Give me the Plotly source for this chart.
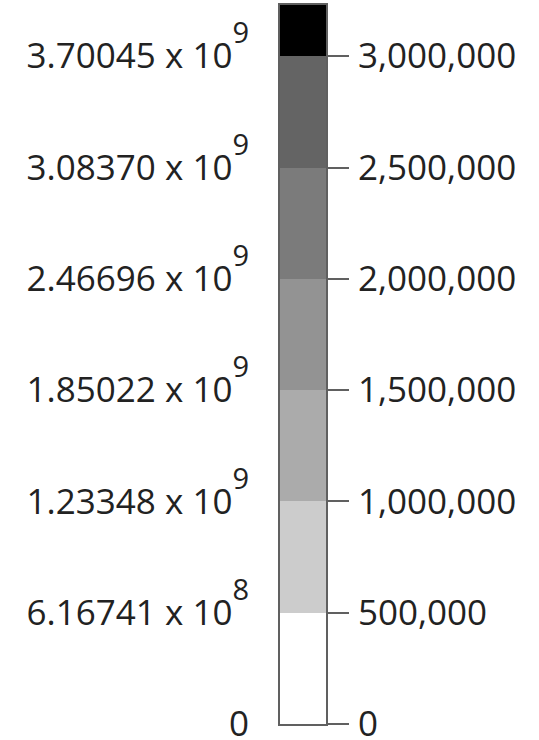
import plotly.graph_objects as go

# Class boundaries of the legend bar (right-hand units)
band_edges = [0, 500000, 1000000, 1500000, 2000000, 2500000, 3000000, 3230000]
band_colors = ["#ffffff", "#cccccc", "#ababab", "#939393", "#7b7b7b", "#646464", "#000000"]

# Right-hand tick values
tick_values = [0, 500000, 1000000, 1500000, 2000000, 2500000, 3000000]

# Left-hand labels at the same positions (mantissa, exponent)
left_mantissa = ["0", "6.16741", "1.23348", "1.85022", "2.46696", "3.08370", "3.70045"]
left_exponent = [None, 8, 9, 9, 9, 9, 9]


def sci_label(m, e):
    if e is None:
        return m
    # raised exponent, set well above the baseline
    return f"{m} x 10<sup><sup><span style='font-size:29px'>{e}</span></sup></sup>"


left_text = [sci_label(m, e) for m, e in zip(left_mantissa, left_exponent)]

FONT = "Open Sans"
FSIZE = 35
TXT = "#222222"
FRAME = "#606060"

fig = go.Figure()
for lo, hi, col in zip(band_edges[:-1], band_edges[1:], band_colors):
    fig.add_trace(go.Bar(
        x=[0], y=[hi - lo], base=[lo], width=[1.0],
        marker=dict(color=col, line=dict(width=0)),
        hoverinfo="skip", showlegend=False,
    ))

# invisible trace so the left label axis is rendered
fig.add_trace(go.Scatter(x=[0], y=[0], yaxis="y2", mode="markers",
                         marker=dict(opacity=0), hoverinfo="skip", showlegend=False))

yr = [band_edges[0], band_edges[-1]]

fig.update_layout(
    width=539, height=740,
    margin=dict(l=280, r=213, t=5, b=16, autoexpand=False),
    paper_bgcolor="white", plot_bgcolor="white",
    barmode="overlay", bargap=0,
    font=dict(family=FONT, size=FSIZE, color=TXT),
    xaxis=dict(range=[-0.5, 0.5], showticklabels=False, showgrid=False, zeroline=False,
               showline=True, mirror=True, linecolor=FRAME, linewidth=2, fixedrange=True),
    yaxis=dict(range=yr, side="right", tickvals=tick_values, tickformat=",d",
               ticks="outside", ticklen=21, tickwidth=2, tickcolor=FRAME,
               ticklabelstandoff=2, ticklabeloverflow="allow", automargin=False,
               showgrid=False, zeroline=False, showline=True, mirror=True,
               linecolor=FRAME, linewidth=2,
               tickfont=dict(family=FONT, size=FSIZE, color=TXT)),
    yaxis2=dict(range=yr, overlaying="y", side="left", tickvals=tick_values,
                ticktext=left_text, ticks="", showgrid=False, zeroline=False,
                showline=False, ticklabelstandoff=30, ticklabeloverflow="allow",
                automargin=False,
                tickfont=dict(family=FONT, size=FSIZE, color=TXT)),
)

fig.write_html("out.html")
